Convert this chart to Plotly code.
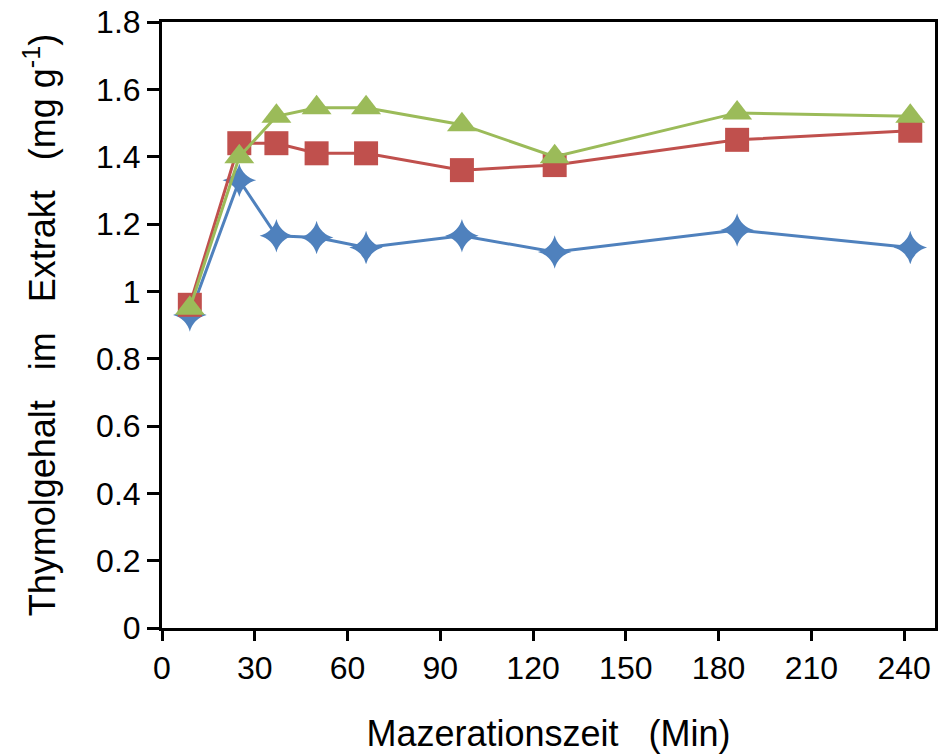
import plotly.graph_objects as go

# Maceration time (min)
time_min = [9, 25, 37, 50, 66, 97, 127, 186, 242]

# Thymol content (mg g-1) for three series
series_blue = [0.93, 1.33, 1.165, 1.16, 1.13, 1.165, 1.117, 1.182, 1.13]
series_red = [0.96, 1.44, 1.44, 1.41, 1.41, 1.36, 1.375, 1.45, 1.477]
series_green = [0.95, 1.40, 1.52, 1.545, 1.545, 1.495, 1.40, 1.53, 1.52]

x_ticks = [0, 30, 60, 90, 120, 150, 180, 210, 240]
y_ticks = [0, 0.2, 0.4, 0.6, 0.8, 1.0, 1.2, 1.4, 1.6, 1.8]
y_ticktext = ["0", "0.2", "0.4", "0.6", "0.8", "1", "1.2", "1.4", "1.6", "1.8"]

BLUE = "#4F81BD"
RED = "#C0504D"
GREEN = "#9BBB59"

fig = go.Figure()
fig.add_trace(go.Scatter(
    x=time_min, y=series_blue, mode="lines+markers",
    line=dict(color=BLUE, width=3),
    marker=dict(symbol="star-diamond", size=24, color=BLUE),
    showlegend=False))
fig.add_trace(go.Scatter(
    x=time_min, y=series_red, mode="lines+markers",
    line=dict(color=RED, width=3),
    marker=dict(symbol="square", size=24, color=RED),
    showlegend=False))
fig.add_trace(go.Scatter(
    x=time_min, y=series_green, mode="lines+markers",
    line=dict(color=GREEN, width=3),
    marker=dict(symbol="triangle-up", size=26, color=GREEN),
    showlegend=False))

font_family = "Liberation Sans, Arial, sans-serif"

fig.update_layout(
    width=941, height=756,
    margin=dict(l=162, r=3, t=22, b=128),
    paper_bgcolor="white", plot_bgcolor="white",
    font=dict(family=font_family, color="black", size=32),
    xaxis=dict(
        range=[0, 250], tickvals=x_ticks,
        showgrid=False, zeroline=False,
        showline=True, linecolor="black", linewidth=3, mirror=True,
        ticks="outside", ticklen=10, tickwidth=3, tickcolor="black",
        tickfont=dict(size=32),
        title=dict(text="Mazerationszeit   (Min)", font=dict(size=36), standoff=36),
    ),
    yaxis=dict(
        range=[0, 1.8], tickvals=y_ticks, ticktext=y_ticktext,
        showgrid=False, zeroline=False,
        showline=True, linecolor="black", linewidth=3, mirror=True,
        ticks="outside", ticklen=12, tickwidth=3, tickcolor="black",
        tickfont=dict(size=32),
        title=dict(text="Thymolgehalt   im   Extrakt   (mg g<sup>-1</sup>)", font=dict(size=36), standoff=30),
    ),
)

fig.write_html("out.html")
